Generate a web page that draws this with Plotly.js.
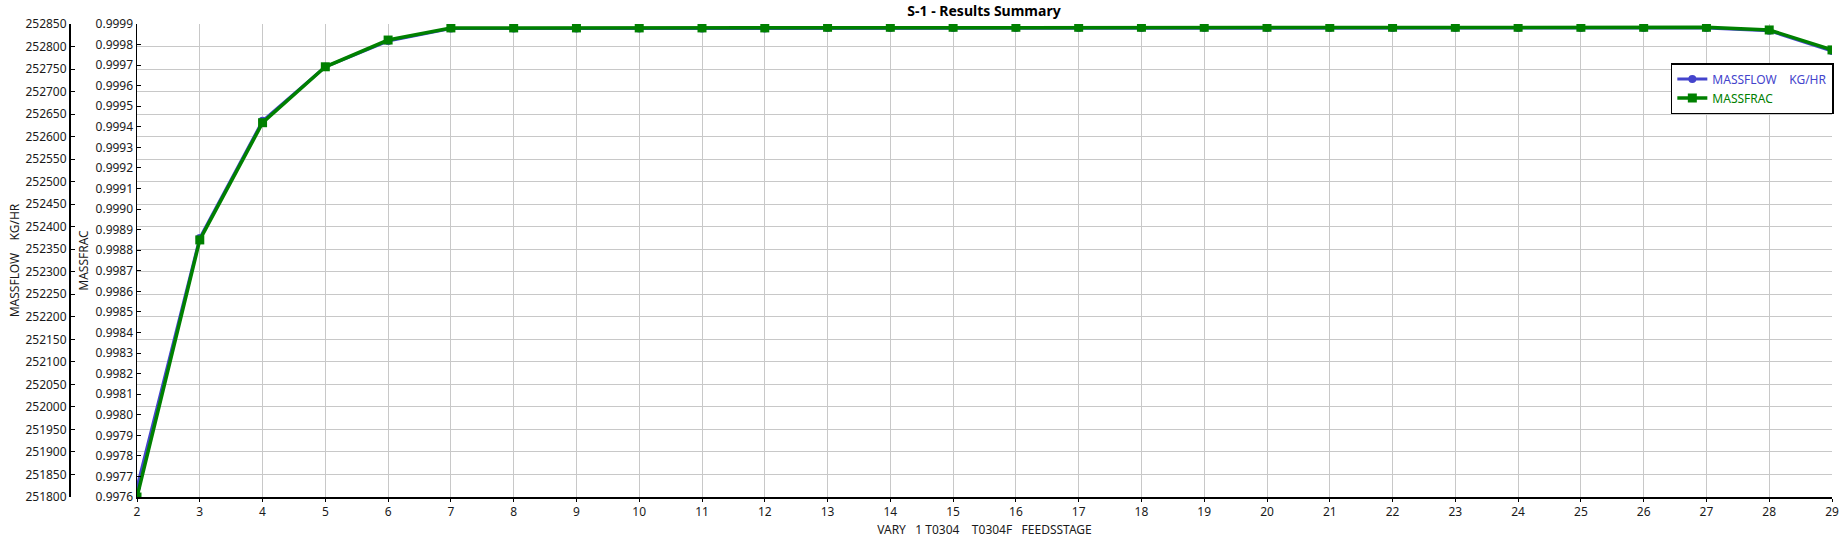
<!DOCTYPE html>
<html>
<head>
<meta charset="utf-8">
<script src="https://cdn.plot.ly/plotly-3.0.1.min.js"></script>
<style>
html,body{margin:0;padding:0;background:#fff;}
#chart{width:1844px;height:544px;}
</style>
</head>
<body>
<div id="chart"></div>
<script>
// Data
var feedStage = [2,3,4,5,6,7,8,9,10,11,12,13,14,15,16,17,18,19,20,21,22,23,24,25,26,27,28,29];
var massflowKgHr = [251822,252375,252635,252755,252812,252840,252840,252840,252840,252840,252840,252841,252841,252841,252841,252841,252841,252841,252841,252841,252841,252841,252841,252841,252841,252841,252835,252790];
var massfrac = [0.99760,0.99885,0.99942,0.999692,0.999822,0.999881,0.999881,0.999881,0.999881,0.999881,0.999881,0.999884,0.999884,0.999884,0.999884,0.999884,0.999884,0.999884,0.999884,0.999884,0.999884,0.999884,0.999884,0.999884,0.999884,0.999884,0.999871,0.999774];

var NB = '\u00a0';
var massflowName = 'MASSFLOW' + NB+NB+NB+NB + 'KG/HR';
var xTitle = 'VARY' + NB+NB+NB + '1 T0304' + NB+NB+NB+NB + 'T0304F' + NB+NB+NB + 'FEEDSSTAGE';

var blue = '#4444cc';
var green = '#008000';
var W = 1844, H = 544, ML = 0, MR = 12;
var pw = W - ML - MR;

var traces = [
  {
    x: feedStage, y: massflowKgHr, yaxis: 'y', type: 'scatter', mode: 'lines+markers',
    name: '<span style="color:' + blue + '">' + massflowName + '</span>',
    line: {color: blue, width: 3},
    marker: {symbol: 'circle', size: 8, color: blue}
  },
  {
    x: feedStage, y: massfrac, yaxis: 'y2', type: 'scatter', mode: 'lines+markers',
    name: '<span style="color:' + green + '">MASSFRAC</span>',
    line: {color: green, width: 3.5},
    marker: {symbol: 'square', size: 9, color: green}
  }
];

var tickFont = {family: '"Noto Sans", "Open Sans", sans-serif', size: 12, color: '#1a1a1a'};

var layout = {
  width: W, height: H,
  margin: {l: ML, r: MR, t: 24, b: 47, pad: 0},
  paper_bgcolor: '#ffffff', plot_bgcolor: '#ffffff',
  font: tickFont,
  showlegend: true,
  title: {
    text: 'S-1 - Results Summary',
    font: {family: '"Noto Sans", "Open Sans", sans-serif', size: 14, weight: 'bold', color: '#000'},
    xref: 'container', x: 984 / W, xanchor: 'center',
    yref: 'container', y: 1 - 11 / H, yanchor: 'middle'
  },
  xaxis: {
    domain: [137 / pw, 1],
    range: [2, 29], tick0: 2, dtick: 1, tickmode: 'linear',
    showgrid: true, gridcolor: '#c8c8c8', gridwidth: 1,
    zeroline: false, showline: true, linecolor: '#000', linewidth: 1.5,
    ticks: 'outside', ticklen: 3, tickcolor: '#000',
    tickfont: tickFont,
    title: {text: xTitle, font: tickFont, standoff: 6},
    automargin: false
  },
  yaxis: {
    anchor: 'free', position: 69 / pw, side: 'left',
    range: [251800, 252850], tick0: 251800, dtick: 50, tickmode: 'linear',
    tickformat: 'd',
    showgrid: true, gridcolor: '#c8c8c8', gridwidth: 1,
    zeroline: false, showline: true, linecolor: '#000', linewidth: 1.5,
    ticks: 'inside', ticklen: 4, tickcolor: '#000',
    tickfont: tickFont,
    title: {text: massflowName, font: tickFont, standoff: 1},
    automargin: false
  },
  yaxis2: {
    overlaying: 'y', anchor: 'x', side: 'left',
    range: [0.9976, 0.9999], tick0: 0.9976, dtick: 0.0001, tickmode: 'linear',
    tickformat: '.4f',
    showgrid: false,
    zeroline: false, showline: true, linecolor: '#000', linewidth: 1.5,
    ticks: 'inside', ticklen: 4, tickcolor: '#000',
    tickfont: tickFont,
    title: {text: 'MASSFRAC', font: tickFont, standoff: 4},
    automargin: false
  },
  legend: {
    x: 1.001, xanchor: 'right', y: 1 - (63 - 24) / 473, yanchor: 'top',
    bgcolor: '#ffffff', bordercolor: '#000', borderwidth: 1.5,
    font: {family: '"Noto Sans", "Open Sans", sans-serif', size: 12},
    tracegroupgap: 0, itemwidth: 30
  }
};

Plotly.newPlot('chart', traces, layout, {displayModeBar: false, responsive: false, staticPlot: true});
</script>
</body>
</html>
